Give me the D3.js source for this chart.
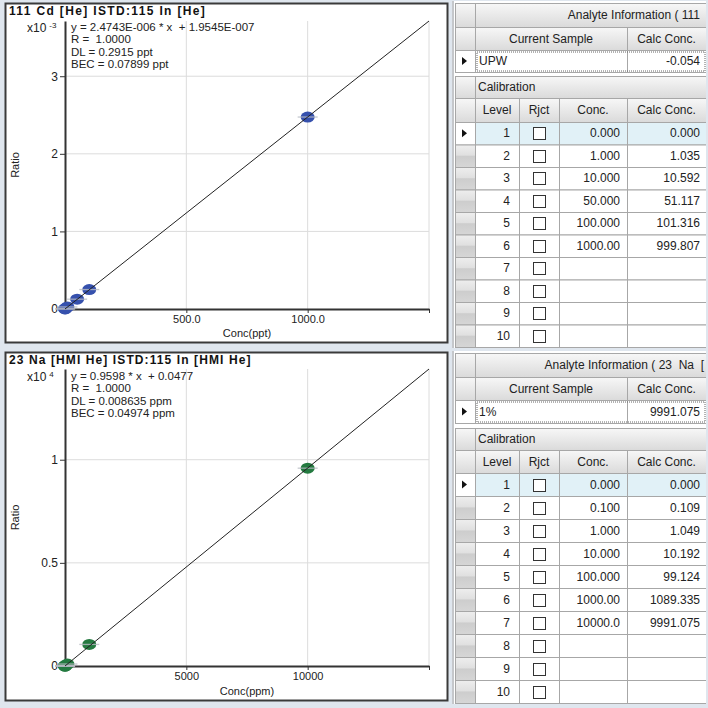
<!DOCTYPE html>
<html>
<head>
<meta charset="utf-8">
<script src="https://cdn.jsdelivr.net/npm/d3@7"></script>
<style>
  body { margin: 0; background: #dfe6ee; }
  svg { display: block; font-family: "Liberation Sans", Arial, sans-serif; }
  text { white-space: pre; }
</style>
</head>
<body>
<svg id="chart"></svg>
<script>
// Cd calibration (ratio shown in units of x10^-3)
const cdConc = [0, 1, 10, 50, 100, 1000];
const cdRatio = [0.0002, 0.0026, 0.0262, 0.1265, 0.2507, 2.4740];
const cdFitX = [0, 1500];
const cdFitY = [0.0002, 3.7117];
const cdTicksX = [0, 500, 1000, 1500];
const cdTicksY = [0, 1, 2, 3];
const cdInfo = ["y = 2.4743E-006 * x  + 1.9545E-007", "R =  1.0000", "DL = 0.2915 ppt", "BEC = 0.07899 ppt"];

// Na calibration (ratio shown in units of x10^4)
const naConc = [0, 0.1, 1, 10, 100, 1000, 10000];
const naRatio = [0.0000, 0.0000, 0.0001, 0.0010, 0.0095, 0.1046, 0.9590];
const naFitX = [0, 15000];
const naFitY = [0.0000, 1.4397];
const naTicksX = [0, 5000, 10000, 15000];
const naTicksY = [0, 0.5, 1];
const naInfo = ["y = 0.9598 * x  + 0.0477", "R =  1.0000", "DL = 0.008635 ppm", "BEC = 0.04974 ppm"];

// table contents
const levels = [1, 2, 3, 4, 5, 6, 7, 8, 9, 10];
const cdConcText = ["0.000", "1.000", "10.000", "50.000", "100.000", "1000.00"];
const cdCalcText = ["0.000", "1.035", "10.592", "51.117", "101.316", "999.807"];
const naConcText = ["0.000", "0.100", "1.000", "10.000", "100.000", "1000.00", "10000.0"];
const naCalcText = ["0.000", "0.109", "1.049", "10.192", "99.124", "1089.335", "9991.075"];

const W = 708, H = 708;
const svg = d3.select("#chart").attr("width", W).attr("height", H);

svg.append("rect").attr("width", W).attr("height", H).attr("fill", "#dfe6ee");

// gradients for the grid headers
const defs = svg.append("defs");
const headGrad = defs.append("linearGradient").attr("id", "headGrad")
    .attr("x1", 0).attr("y1", 0).attr("x2", 0).attr("y2", 1);
headGrad.append("stop").attr("offset", "0").attr("stop-color", "#f7f7f7");
headGrad.append("stop").attr("offset", "1").attr("stop-color", "#dadada");
const rowGrad = defs.append("linearGradient").attr("id", "rowGrad")
    .attr("x1", 0).attr("y1", 0).attr("x2", 0).attr("y2", 1);
rowGrad.append("stop").attr("offset", "0").attr("stop-color", "#eeeeee");
rowGrad.append("stop").attr("offset", "0.45").attr("stop-color", "#e0e0e0");
rowGrad.append("stop").attr("offset", "0.5").attr("stop-color", "#cdcdcd");
rowGrad.append("stop").attr("offset", "1").attr("stop-color", "#d6d6d6");
defs.append("clipPath").attr("id", "tableClip")
    .append("rect").attr("x", 450).attr("y", 0).attr("width", 256).attr("height", H);

// draws one calibration plot panel
function drawPlot(cfg) {
    const panel = svg.append("g");
    panel.append("rect")
        .attr("x", 5.5).attr("y", cfg.top + 0.5)
        .attr("width", 442).attr("height", cfg.bottom - cfg.top)
        .attr("fill", "#fff").attr("stroke", "#3a3a3a").attr("stroke-width", 2);

    panel.append("text")
        .attr("x", 9).attr("y", cfg.top + 12)
        .attr("font-size", 12).attr("font-weight", "bold").attr("letter-spacing", cfg.titleSpacing)
        .attr("fill", "#111")
        .text(cfg.title);

    const x = d3.scaleLinear().domain(cfg.xDomain).range([65, 429]);
    const y = d3.scaleLinear().domain(cfg.yDomain).range([cfg.y0, cfg.yTop]);

    // grid
    panel.append("g").selectAll("line").data(cfg.ticksX.slice(1)).join("line")
        .attr("x1", d => x(d)).attr("x2", d => x(d))
        .attr("y1", cfg.yTop).attr("y2", cfg.y0)
        .attr("stroke", "#dcdcdc");
    panel.append("g").selectAll("line").data(cfg.ticksY.slice(1)).join("line")
        .attr("x1", 65).attr("x2", 429)
        .attr("y1", d => y(d)).attr("y2", d => y(d))
        .attr("stroke", "#dcdcdc");

    // axes
    const xAxis = d3.axisBottom(x).tickValues(cfg.ticksX).tickSize(4).tickSizeOuter(0)
        .tickFormat((d, i) => (i === 0 || i === cfg.ticksX.length - 1) ? "" : cfg.xFormat(d));
    const gx = panel.append("g").attr("transform", `translate(0,${cfg.y0})`).call(xAxis);
    gx.select(".domain").attr("stroke", "#333").attr("stroke-width", 2);
    gx.selectAll(".tick line").attr("stroke", "#333");
    gx.selectAll(".tick text").attr("font-size", 11).attr("fill", "#222")
        .attr("font-family", "Liberation Sans, Arial, sans-serif").attr("dy", "0.65em");

    const yAxis = d3.axisLeft(y).tickValues(cfg.ticksY).tickSize(5).tickSizeOuter(0)
        .tickFormat(cfg.yFormat);
    const gy = panel.append("g").attr("transform", "translate(65,0)").call(yAxis);
    gy.select(".domain").attr("stroke", "#333").attr("stroke-width", 2);
    gy.selectAll(".tick line").attr("stroke", "#333");
    gy.selectAll(".tick text").attr("font-size", 12).attr("fill", "#222")
        .attr("font-family", "Liberation Sans, Arial, sans-serif").attr("x", -7);

    // axis labels
    panel.append("text")
        .attr("x", 247).attr("y", cfg.bottom - 5)
        .attr("text-anchor", "middle").attr("font-size", 11).attr("fill", "#222")
        .text(cfg.xLabel);
    panel.append("text")
        .attr("transform", `translate(19,${(cfg.y0 + cfg.yTop) / 2}) rotate(-90)`)
        .attr("text-anchor", "middle").attr("font-size", 11).attr("fill", "#222")
        .text("Ratio");

    // multiplier
    const mult = panel.append("text")
        .attr("x", 27).attr("y", cfg.top + 29).attr("font-size", 12).attr("fill", "#222");
    mult.append("tspan").text("x10");
    mult.append("tspan").attr("dx", 3).attr("dy", -4).attr("font-size", 8).text(cfg.exp);

    // equation block
    panel.append("g").selectAll("text").data(cfg.info).join("text")
        .attr("x", 71).attr("y", (d, i) => cfg.top + 28 + i * 12.3)
        .attr("font-size", 11.5).attr("fill", "#222")
        .text(d => d);

    // markers
    const pts = cfg.conc.map((c, i) => [c, cfg.ratio[i]]);
    panel.append("g").selectAll("ellipse").data(pts).join("ellipse")
        .attr("cx", d => x(d[0])).attr("cy", d => y(d[1]))
        .attr("rx", 7).attr("ry", 5.5)
        .attr("fill", cfg.color);
    panel.append("g").selectAll("line").data(pts).join("line")
        .attr("x1", d => x(d[0]) - 10).attr("x2", d => x(d[0]) + 10)
        .attr("y1", d => y(d[1])).attr("y2", d => y(d[1]))
        .attr("stroke", "#b8bcc4").attr("stroke-width", 1.3).attr("opacity", 0.8);

    // fitted line
    const line = d3.line().x(d => x(d[0])).y(d => y(d[1]));
    panel.append("path")
        .datum(cfg.fitX.map((v, i) => [v, cfg.fitY[i]]))
        .attr("d", line)
        .attr("fill", "none").attr("stroke", "#222").attr("stroke-width", 1);
}

drawPlot({
    top: 3, bottom: 342, y0: 309, yTop: 21,
    title: "111 Cd [He] ISTD:115 In [He]", titleSpacing: 1.35,
    xDomain: [0, 1500], yDomain: [0, 3.7117],
    ticksX: cdTicksX, ticksY: cdTicksY,
    xFormat: d3.format(".1f"), yFormat: d3.format("d"),
    xLabel: "Conc(ppt)", exp: "-3", info: cdInfo,
    conc: cdConc, ratio: cdRatio, fitX: cdFitX, fitY: cdFitY,
    color: "#3651ad"
});

drawPlot({
    top: 352, bottom: 700, y0: 666, yTop: 369,
    title: "23 Na [HMI He] ISTD:115 In [HMI He]", titleSpacing: 1.1,
    xDomain: [0, 15000], yDomain: [0, 1.4397],
    ticksX: naTicksX, ticksY: naTicksY,
    xFormat: d3.format("d"), yFormat: d3.format(""),
    xLabel: "Conc(ppm)", exp: "4", info: naInfo,
    conc: naConc, ratio: naRatio, fitX: naFitX, fitY: naFitY,
    color: "#247a40"
});

// grid columns (x edges)
const colHead = [455, 475];
const colLevel = [475, 519];
const colRjct = [519, 559];
const colConc = [559, 627];
const colCalc = [627, 706];

const tables = svg.append("g").attr("clip-path", "url(#tableClip)");

function cell(g, x0, x1, y0, y1, fill) {
    g.append("rect")
        .attr("x", x0 + 0.5).attr("y", y0 + 0.5)
        .attr("width", x1 - x0).attr("height", y1 - y0)
        .attr("fill", fill).attr("stroke", "#a7a7a7");
}

function label(g, txt, x, y, anchor) {
    g.append("text")
        .attr("x", x).attr("y", y).attr("dy", "0.35em")
        .attr("text-anchor", anchor).attr("font-size", 12).attr("fill", "#222")
        .text(txt);
}

function arrow(g, yc) {
    g.append("path")
        .attr("d", `M462,${yc - 4}L467,${yc}L462,${yc + 4}Z`)
        .attr("fill", "#111");
}

function drawTable(cfg) {
    const g = tables.append("g");
    const r = cfg.rows;
    g.append("rect").attr("x", 452).attr("y", cfg.y[0] - 2)
        .attr("width", 256).attr("height", r.top + r.h * 10 - cfg.y[0] + 3)
        .attr("fill", "#fff");
    g.append("line").attr("x1", 453).attr("x2", 453)
        .attr("y1", cfg.y[0] - 2).attr("y2", r.top + r.h * 10 + 1)
        .attr("stroke", "#8a8f96");

    // analyte information header (clipped by the grid edge, as on screen)
    cell(g, colHead[0], colHead[1], cfg.y[0], cfg.y[1], "url(#headGrad)");
    cell(g, colLevel[0], 760, cfg.y[0], cfg.y[1], "url(#headGrad)");
    label(g, cfg.analyte, cfg.analyteX, (cfg.y[0] + cfg.y[1]) / 2, "end");

    // current sample header + row
    cell(g, colHead[0], colHead[1], cfg.y[1], cfg.y[2], "url(#headGrad)");
    cell(g, colLevel[0], colConc[1], cfg.y[1], cfg.y[2], "url(#headGrad)");
    cell(g, colCalc[0], colCalc[1], cfg.y[1], cfg.y[2], "url(#headGrad)");
    label(g, "Current Sample", (colLevel[0] + colConc[1]) / 2, (cfg.y[1] + cfg.y[2]) / 2, "middle");
    label(g, "Calc Conc.", (colCalc[0] + colCalc[1]) / 2, (cfg.y[1] + cfg.y[2]) / 2, "middle");

    cell(g, colHead[0], colHead[1], cfg.y[2], cfg.y[3], "#fff");
    cell(g, colLevel[0], colConc[1], cfg.y[2], cfg.y[3], "#fff");
    cell(g, colCalc[0], colCalc[1], cfg.y[2], cfg.y[3], "#fff");
    g.append("rect").attr("x", colLevel[0] + 2).attr("y", cfg.y[2] + 2)
        .attr("width", colCalc[1] - colLevel[0] - 3).attr("height", cfg.y[3] - cfg.y[2] - 3)
        .attr("fill", "none").attr("stroke", "#666").attr("stroke-dasharray", "1,1");
    arrow(g, (cfg.y[2] + cfg.y[3]) / 2);
    label(g, cfg.sample, colLevel[0] + 4, (cfg.y[2] + cfg.y[3]) / 2, "start");
    label(g, cfg.sampleCalc, colCalc[1] - 6, (cfg.y[2] + cfg.y[3]) / 2, "end");

    // calibration header
    cell(g, colHead[0], colHead[1], cfg.y[4], cfg.y[5], "url(#headGrad)");
    cell(g, colLevel[0], 760, cfg.y[4], cfg.y[5], "url(#headGrad)");
    label(g, "Calibration", colLevel[0] + 3, (cfg.y[4] + cfg.y[5]) / 2, "start");

    cell(g, colHead[0], colHead[1], cfg.y[5], r.top, "url(#headGrad)");
    [[colLevel, "Level"], [colRjct, "Rjct"], [colConc, "Conc."], [colCalc, "Calc Conc."]]
        .forEach(([c, t]) => {
            cell(g, c[0], c[1], cfg.y[5], r.top, "url(#headGrad)");
            label(g, t, (c[0] + c[1]) / 2, (cfg.y[5] + r.top) / 2, "middle");
        });

    // level rows
    levels.forEach((lv, i) => {
        const y0 = r.top + i * r.h, y1 = y0 + r.h, yc = (y0 + y1) / 2;
        const bg = i === 0 ? "#e1f1f7" : "#fff";
        cell(g, colHead[0], colHead[1], y0, y1, i === 0 ? "#fff" : "url(#rowGrad)");
        if (i === 0) arrow(g, yc);
        cell(g, colLevel[0], colLevel[1], y0, y1, bg);
        cell(g, colRjct[0], colRjct[1], y0, y1, bg);
        cell(g, colConc[0], colConc[1], y0, y1, bg);
        cell(g, colCalc[0], colCalc[1], y0, y1, bg);
        label(g, lv, colLevel[1] - 9, yc, "end");
        g.append("rect").attr("x", 533.5).attr("y", Math.round(yc - 6) + 0.5)
            .attr("width", 12).attr("height", 12)
            .attr("fill", "#fff").attr("stroke", "#333");
        if (i < cfg.conc.length) {
            label(g, cfg.conc[i], colConc[1] - 7, yc, "end");
            label(g, cfg.calc[i], colCalc[1] - 6, yc, "end");
        }
    });
}

drawTable({
    y: [3, 27, 50, 72, 76, 98],
    rows: {top: 122, h: 22.5},
    analyte: "Analyte Information ( 111", analyteX: 700,
    sample: "UPW", sampleCalc: "-0.054",
    conc: cdConcText, calc: cdCalcText
});

drawTable({
    y: [353, 377, 400, 423, 428, 450],
    rows: {top: 473, h: 23},
    analyte: "Analyte Information ( 23  Na  [", analyteX: 704,
    sample: "1%", sampleCalc: "9991.075",
    conc: naConcText, calc: naCalcText
});
</script>
</body>
</html>
